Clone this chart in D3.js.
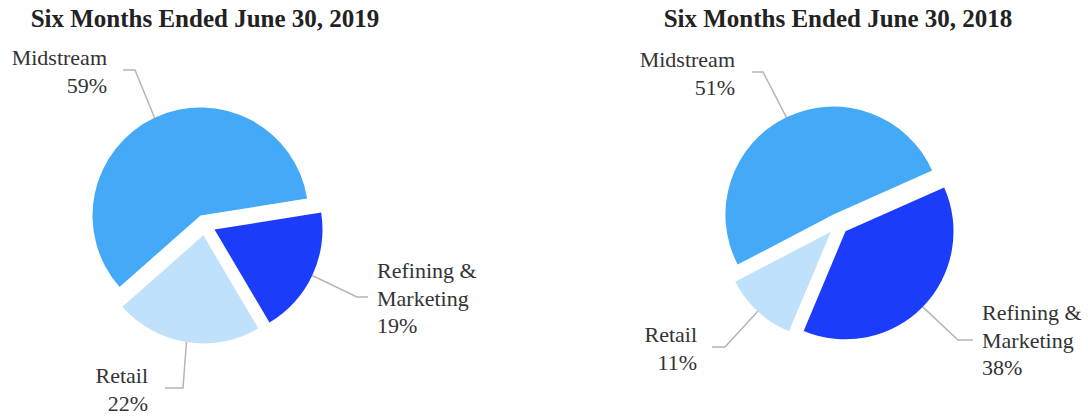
<!DOCTYPE html>
<html>
<head>
<meta charset="utf-8">
<script src="https://cdn.jsdelivr.net/npm/d3@7"></script>
<style>
  body { margin: 0; background: white; }
  text { font-family: "Liberation Serif", "Times New Roman", serif; }
</style>
</head>
<body>
<main></main>
<script>
// segment data (clockwise order)
const segments = ["Refining & Marketing", "Retail", "Midstream"]
const segmentLines = [["Refining &", "Marketing"], ["Retail"], ["Midstream"]]
const titles = ["Six Months Ended June 30, 2019", "Six Months Ended June 30, 2018"]
const values2019 = [19, 22, 59]
const values2018 = [38, 11, 51]

const colors = ["#1b3cfa", "#c0e1fb", "#44aaf7"]

//set dimensions
const svgWidth = 1088
const svgHeight = 417
const radius = 108
const explode = 10.5

let svg = d3.select("main")
    .append("svg")
    .attr("width", svgWidth)
    .attr("height", svgHeight)
    .style("background-color", "white")

let color = d3.scaleOrdinal().domain(segments).range(colors)

// layout for each pie: centre, rotation, and where the labels sit
const layouts = [
  {
    cx: 205, cy: 225, start: 81,
    labels: [
      {elbow: [357, 297], end: [368, 297], x: 377, y: 278, anchor: "start"},
      {elbow: [183, 388], end: [165, 388], x: 148, y: 383, anchor: "end"},
      {elbow: [135, 70], end: [123, 70], x: 107, y: 65, anchor: "end"}
    ]
  },
  {
    cx: 838, cy: 224, start: 66,
    labels: [
      {elbow: [958, 340], end: [973, 340], x: 982, y: 320, anchor: "start"},
      {elbow: [725, 347], end: [712, 347], x: 697, y: 342, anchor: "end"},
      {elbow: [763, 72], end: [752, 72], x: 735, y: 67, anchor: "end"}
    ]
  }
]

const allValues = [values2019, values2018]

let arc = d3.arc().innerRadius(0).outerRadius(radius)
let edge = d3.arc().innerRadius(radius).outerRadius(radius)
let shift = d3.arc().innerRadius(explode).outerRadius(explode)

allValues.forEach(function (values, k) {
  let lay = layouts[k]
  let pie = d3.pie()
      .sort(null)
      .startAngle(lay.start * Math.PI / 180)
      .endAngle(lay.start * Math.PI / 180 + 2 * Math.PI)
      .value(d => d.value)

  let data = segments.map((s, i) => ({name: s, value: values[i], lines: segmentLines[i]}))
  let arcs = pie(data)

  //title
  svg.append("text")
      .attr("x", lay.cx)
      .attr("y", 27)
      .attr("text-anchor", "middle")
      .attr("font-family", "Liberation Serif")
      .attr("font-weight", "bold")
      .attr("font-size", 25)
      .attr("fill", "#222")
      .text(titles[k])

  let g = svg.append("g")
      .attr("transform", `translate(${lay.cx}, ${lay.cy})`)

  // slices pulled out from the centre
  g.selectAll("path.slice")
      .data(arcs)
      .enter()
      .append("path")
      .attr("class", "slice")
      .attr("transform", d => {
        let c = shift.centroid(d)
        return `translate(${c[0]}, ${c[1]})`
      })
      .attr("d", arc)
      .style("fill", d => color(d.data.name))

  // leader lines and labels
  arcs.forEach(function (d, i) {
    let c = shift.centroid(d)
    let e = edge.centroid(d)
    let p0 = [lay.cx + c[0] + e[0], lay.cy + c[1] + e[1]]
    let lab = lay.labels[i]
    svg.append("polyline")
        .attr("points", [p0, lab.elbow, lab.end].map(p => p.join(",")).join(" "))
        .style("fill", "none")
        .style("stroke", "#b5b5b5")
        .style("stroke-width", 1.5)

    let lines = d.data.lines.concat([d.data.value + "%"])
    let t = svg.append("text")
        .attr("text-anchor", lab.anchor)
        .attr("font-family", "Liberation Serif")
        .attr("font-size", 22)
        .attr("fill", "#333")
    lines.forEach(function (line, j) {
      t.append("tspan")
          .attr("x", lab.x)
          .attr("y", lab.y + j * 27.5)
          .text(line)
    })
  })
})
</script>
</body>
</html>
